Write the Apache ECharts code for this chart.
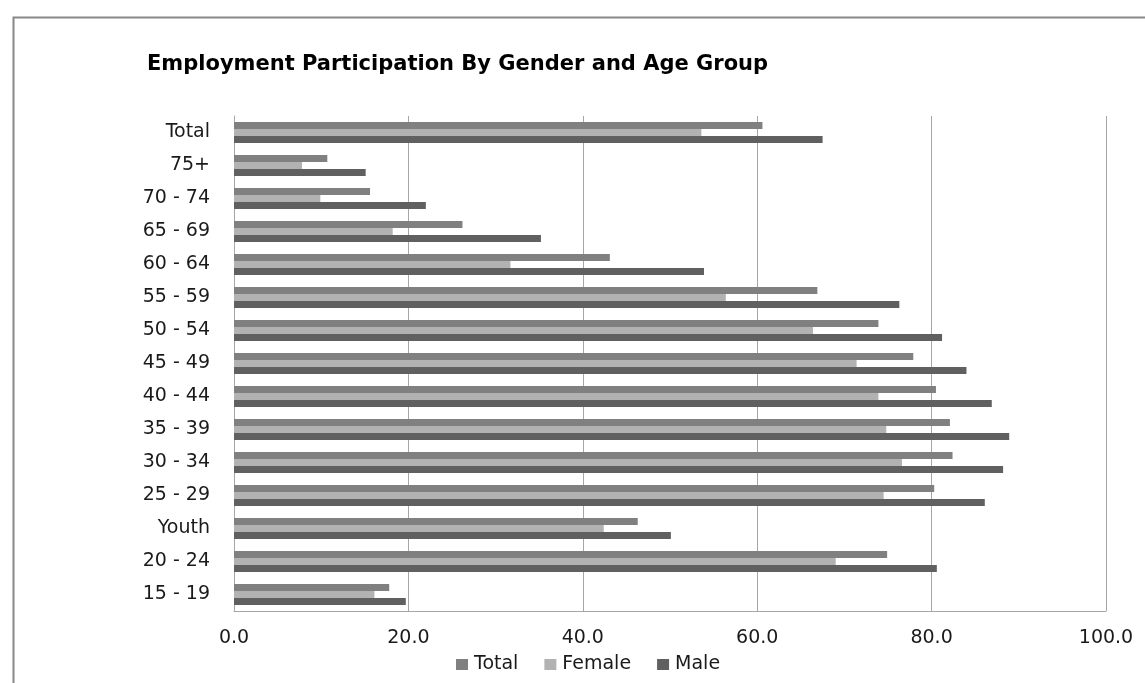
<!DOCTYPE html>
<html>
<head>
<meta charset="utf-8">
<script src="https://cdn.jsdelivr.net/npm/echarts@6/dist/echarts.min.js"></script>
<style>
  html, body { margin: 0; padding: 0; background: #fff; }
  #chart { width: 1145px; height: 683px; }
</style>
</head>
<body>
<div id="chart"></div>
<script>
// Age groups, listed bottom to top along the category axis
const categories = ['15 - 19', '20 - 24', 'Youth', '25 - 29', '30 - 34', '35 - 39', '40 - 44',
  '45 - 49', '50 - 54', '55 - 59', '60 - 64', '65 - 69', '70 - 74', '75+', 'Total'];

// Employment participation rates (%)
const totalValues  = [17.8, 74.9, 46.3, 80.3, 82.4, 82.1, 80.5, 77.9, 73.9, 66.9, 43.1, 26.2, 15.6, 10.7, 60.6];
const femaleValues = [16.1, 69.0, 42.4, 74.5, 76.6, 74.8, 73.9, 71.4, 66.4, 56.4, 31.7, 18.2, 9.9, 7.8, 53.6];
const maleValues   = [19.7, 80.6, 50.1, 86.1, 88.2, 88.9, 86.9, 84.0, 81.2, 76.3, 53.9, 35.2, 22.0, 15.1, 67.5];

const xTicks = { min: 0, max: 100, interval: 20 };

const FONT = 'DejaVu Sans';
const TEXT_COLOR = '#1a1a1a';

const chart = echarts.init(document.getElementById('chart'), null, { renderer: 'canvas' });

function barSeries(name, data, color) {
  return {
    name: name,
    type: 'bar',
    data: data,
    barGap: '0%',
    barCategoryGap: '36%',
    itemStyle: { color: color },
    emphasis: { disabled: true },
    animation: false
  };
}

chart.setOption({
  animation: false,
  backgroundColor: '#ffffff',
  title: {
    text: 'Employment Participation By Gender and Age Group',
    left: 142,
    top: 49,
    textStyle: { fontFamily: FONT, fontSize: 21, lineHeight: 21, fontWeight: 'bold', color: '#000' }
  },
  graphic: [{
    type: 'rect',
    left: 11,
    top: 15,
    shape: { width: 1200, height: 800 },
    style: { fill: 'none', stroke: '#878787', lineWidth: 2 },
    silent: true
  }],
  legend: {
    data: ['Total', 'Female', 'Male'],
    left: 451,
    top: 650,
    itemWidth: 12,
    itemHeight: 11,
    itemGap: 26,
    icon: 'rect',
    textStyle: { fontFamily: FONT, fontSize: 19, color: TEXT_COLOR, padding: [0, 0, 0, 1] }
  },
  grid: { left: 234, right: 39, top: 116, bottom: 72, containLabel: false },
  xAxis: {
    type: 'value',
    min: xTicks.min,
    max: xTicks.max,
    interval: xTicks.interval,
    axisLine: { show: true, lineStyle: { color: '#a6a6a6', width: 1 } },
    axisTick: { show: false },
    splitLine: { show: true, lineStyle: { color: '#a6a6a6', width: 1 } },
    axisLabel: {
      margin: 18,
      fontFamily: FONT,
      fontSize: 19,
      color: TEXT_COLOR,
      formatter: v => v.toFixed(1)
    }
  },
  yAxis: {
    type: 'category',
    data: categories,
    axisLine: { show: true, lineStyle: { color: '#a6a6a6', width: 1 } },
    axisTick: { show: false },
    axisLabel: { margin: 24, fontFamily: FONT, fontSize: 19, color: TEXT_COLOR }
  },
  series: [
    barSeries('Total', totalValues, '#808080'),
    barSeries('Female', femaleValues, '#b2b2b2'),
    barSeries('Male', maleValues, '#606060')
  ]
});
</script>
</body>
</html>
